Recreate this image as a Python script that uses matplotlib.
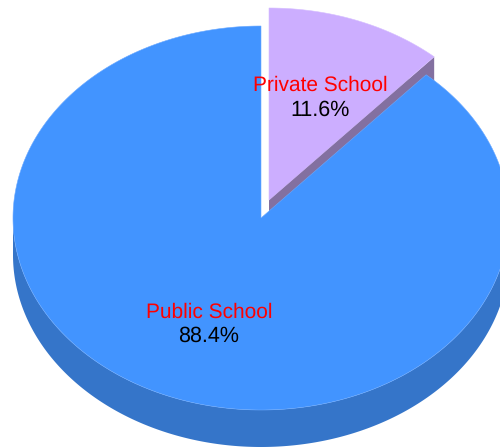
import numpy as np
import matplotlib
matplotlib.use("Agg")
import matplotlib.pyplot as plt

plt.rcParams["text.hinting"] = "none"

labels = ["Public School", "Private School"]
shares = [88.4, 11.6]
label_colors = ["#FF0000", "#FF0000"]

top_colors = ["#4294FF", "#CCAEFF"]
side_colors = ["#3575C9", "#8370A0"]
edge_colors = ["#6AA9FF", "#D6BEFF"]

# pie geometry in pixels
cx, cy = 261, 218
rx, ry = 248, 192
depth = 37
explode = (8, -18)
label_pos = [(209, 312), (320, 85.5)]


def sector(start, end, dx=0, dy=0):
    """Punkty wycinka, katy w stopniach zgodnie z zegarem od gory."""
    t = np.radians(np.linspace(start, end, 400))
    x = cx + dx + rx * np.sin(t)
    y = cy + dy - ry * np.cos(t)
    return np.r_[cx + dx, x], np.r_[cy + dy, y]


fig = plt.figure(figsize=(5, 4.47), dpi=100)
ax = fig.add_axes([0, 0, 1, 1])
ax.set_xlim(0, 500)
ax.set_ylim(447, 0)
ax.axis("off")

private_angle = shares[1] / sum(shares) * 360

# private slice, pulled out of the pie
ex, ey = explode
x, y = sector(0, private_angle, ex, ey)
ax.fill(x, y + depth, color=side_colors[1], lw=0, zorder=1)
ax.fill([x[0], x[-1], x[-1], x[0]],
        [y[0], y[-1], y[-1] + depth, y[0] + depth],
        color=side_colors[1], lw=0, zorder=1)
ax.fill(x, y, facecolor=top_colors[1], edgecolor=edge_colors[1], lw=0.4, zorder=2)

# public slice
x, y = sector(private_angle, 360)
t = np.radians(np.linspace(90, 270, 400))
band_x = cx + rx * np.sin(t)
band_y = cy - ry * np.cos(t)
ax.fill(np.r_[band_x, band_x[::-1]], np.r_[band_y, band_y[::-1] + depth],
        color=side_colors[0], lw=0, zorder=3)
ax.fill(x, y, facecolor=top_colors[0], edgecolor=edge_colors[0], lw=0.4, zorder=4)

for name, share, color, (tx, ty) in zip(labels, shares, label_colors, label_pos):
    ax.text(tx, ty, name, color=color, fontsize=15, family="Liberation Sans",
            ha="center", va="center", zorder=5)
    ax.text(tx, ty + 24.5, f"{share}%", color="black", fontsize=15.5,
            family="Liberation Sans", ha="center", va="center", zorder=5)

fig.savefig("out.png", dpi=100)
